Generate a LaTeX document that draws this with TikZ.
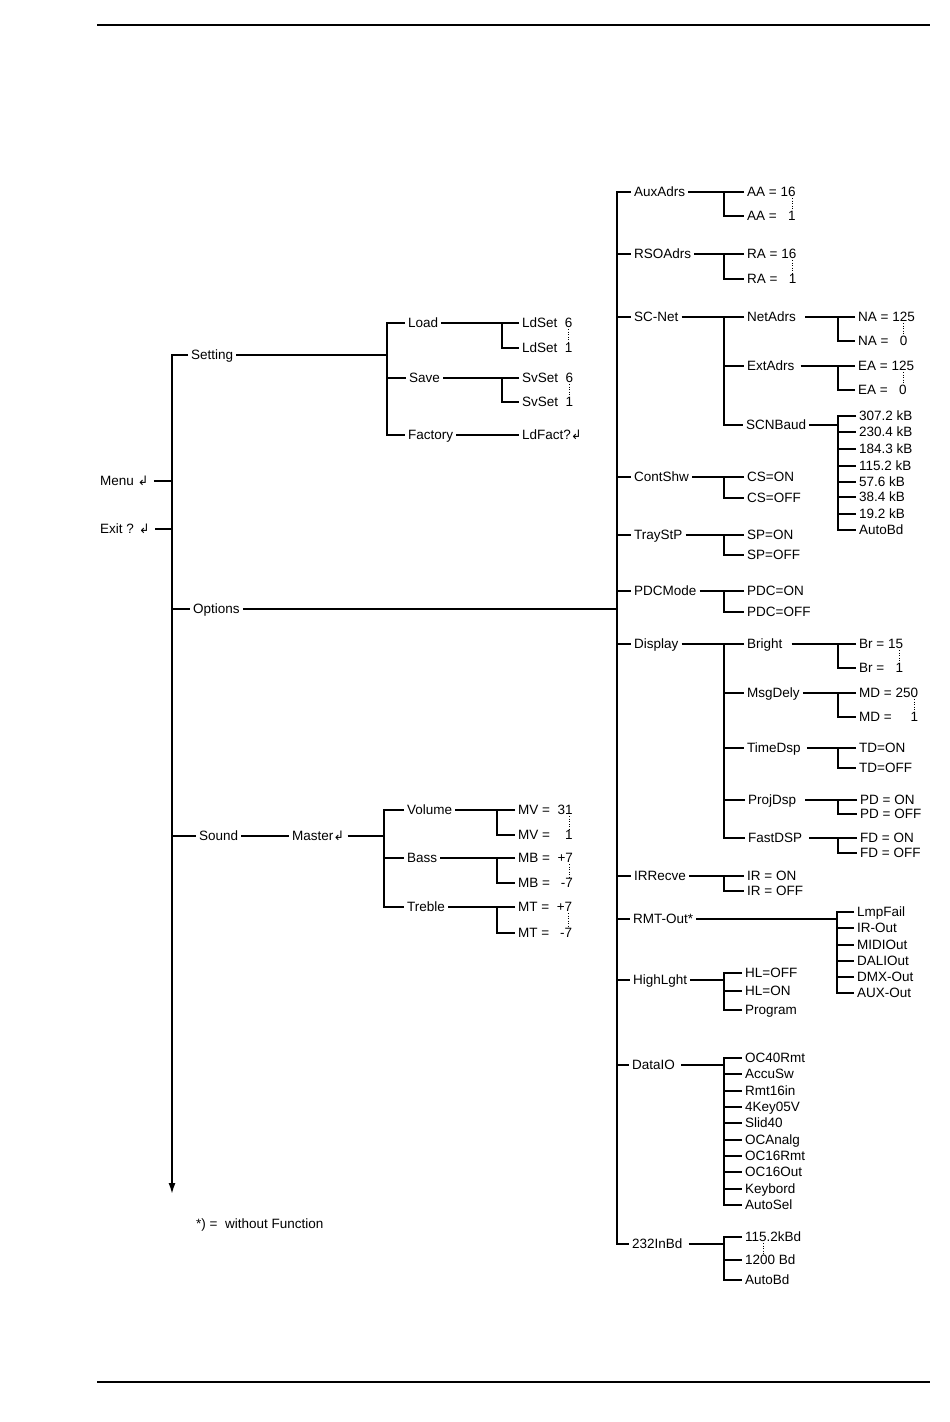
\documentclass[tikz,border=0pt]{standalone}
\usepackage{fontspec}
\setmainfont{Liberation Sans}
\newfontfamily\symf{DejaVu Sans}
\usetikzlibrary{arrows.meta}
\newcommand\ret{{\symf\fontsize{13}{13}\selectfont ↲}}
\newcommand\feed[3][ln]{\draw[#1] (#2.east) -- (#2.east -| #3);}
\newcommand\spine[4][ln]{\draw[#1] (#3.west) -- (#3.west -| #2) -- (#4.west -| #2) -- (#4.west);}
\newcommand\kid[3][ln]{\draw[#1] (#3.west -| #2) -- (#3.west);}
\newcommand\dotsbetween[3][-6.75pt]{\draw[dts] ([xshift=#1]#2.south east) -- ([xshift=#1]#3.north east);}
\begin{document}
\begin{tikzpicture}[x=1pt,y=-1pt,
  lbl/.style={anchor=west, inner xsep=3pt, inner ysep=0pt, text height=9pt, text depth=0pt, font=\fontsize{13.5}{14}\selectfont},
  ln/.style={line width=1.1pt},
  trunk/.style={line width=1.7pt},
  tk/.style={line width=2.2pt},
  dts/.style={line width=0.9pt, dash pattern=on 0.9pt off 1.6pt, shorten <=1.5pt, shorten >=1.5pt}]
\useasboundingbox (0,0) rectangle (950,1422);
% page rules
\draw[line width=1.8pt] (97,25) -- (930,25);
\draw[line width=1.8pt] (97,1382) -- (930,1382);
% bus coordinates
\coordinate (tL) at (172,355);
\coordinate (tLend) at (172,1194);
\coordinate (bSet) at (387,0);
\coordinate (bLd) at (502,0);
\coordinate (bMa) at (384,0);
\coordinate (bVol) at (497,0);
\coordinate (tR) at (617,0);
\coordinate (b2) at (724,0);
\coordinate (b3) at (838,0);
\coordinate (b3r) at (837,0);
% ---------- left part ----------
\node[lbl] (menu) at (97,481) {Menu \ret};
\node[lbl] (exit) at (97,529) {Exit ? \ret};
\node[lbl] (setting) at (188,355) {Setting};
\node[lbl] (options) at (190,609) {Options};
\node[lbl] (sound) at (196,836) {Sound};
\node[lbl] (master) at (289,836) {Master\ret};
\draw[trunk,-{Latex[length=11pt,width=7pt]}] (setting.west) -- (tL) -- (tLend);
\draw[ln] ([xshift=2pt]menu.east) -- (menu.east -| tL);
\draw[ln] ([xshift=2pt]exit.east) -- (exit.east -| tL);
\kid{tL}{options}
\kid{tL}{sound}
\feed[tk]{options}{tR}
% Setting
\node[lbl] (load) at (405,323) {Load};
\node[lbl] (save) at (406,378) {Save};
\node[lbl] (factory) at (405,435) {Factory};
\feed{setting}{bSet}
\spine{bSet}{load}{factory}
\kid{bSet}{save}
\node[lbl] (ld6) at (519,323) {LdSet\ \ 6};
\node[lbl] (ld1) at (519,348) {LdSet\ \ 1};
\feed{load}{bLd}
\draw[ln] (ld6.west) -- (ld6.west -| bLd);
\draw[tk] (ld6.west -| bLd) -- (ld1.west -| bLd) -- (ld1.west);
\dotsbetween{ld6}{ld1}
\node[lbl] (sv6) at (519,378) {SvSet\ \ 6};
\node[lbl] (sv1) at (519,402) {SvSet\ \ 1};
\feed{save}{bLd}
\spine{bLd}{sv6}{sv1}
\dotsbetween{sv6}{sv1}
\node[lbl] (ldf) at (519,435) {LdFact?\ret};
\draw[ln] (factory.east) -- (ldf.west);
% Sound
\draw[ln] (sound.east) -- (master.west);
\node[lbl] (volume) at (404,810) {Volume};
\node[lbl] (bass) at (404,858) {Bass};
\node[lbl] (treble) at (404,907) {Treble};
\feed{master}{bMa}
\spine{bMa}{volume}{treble}
\kid{bMa}{bass}
\node[lbl] (mv31) at (515,810) {MV =\ \ 31};
\node[lbl] (mv1) at (515,835) {MV =\ \ \phantom{3}1};
\feed{volume}{bVol}
\spine{bVol}{mv31}{mv1}
\dotsbetween{mv31}{mv1}
\node[lbl] (mbp) at (515,858) {MB =\ \ +7};
\node[lbl] (mbm) at (515,883) {MB =\ \ \phantom{+}\llap{-}7};
\feed{bass}{bVol}
\spine{bVol}{mbp}{mbm}
\dotsbetween{mbp}{mbm}
\node[lbl] (mtp) at (515,907) {MT =\ \ +7};
\node[lbl] (mtm) at (515,933) {MT =\ \ \phantom{+}\llap{-}7};
\feed{treble}{bVol}
\spine{bVol}{mtp}{mtm}
\dotsbetween{mtp}{mtm}
% ---------- right part ----------
\node[lbl] (aux) at (631,192) {AuxAdrs};
\node[lbl] (rso) at (631,254) {RSOAdrs};
\node[lbl] (scnet) at (631,317) {SC-Net};
\node[lbl] (cont) at (631,477) {ContShw};
\node[lbl] (tray) at (631,535) {TrayStP};
\node[lbl] (pdc) at (631,591) {PDCMode};
\node[lbl] (disp) at (631,644) {Display};
\node[lbl] (irr) at (631,876) {IRRecve};
\node[lbl] (rmt) at (630,919) {RMT-Out*};
\node[lbl] (hl) at (630,980) {HighLght};
\node[lbl] (dio) at (629,1065) {DataIO};
\node[lbl] (i232) at (629,1244) {232InBd};
\spine[trunk]{tR}{aux}{i232}
\foreach \n in {rso,scnet,cont,tray,pdc,disp,irr,rmt,hl,dio} {\kid{tR}{\n}}
% AuxAdrs
\node[lbl] (aa16) at (744,192) {AA = 16};
\node[lbl] (aa1) at (744,216) {AA = \phantom{1}1};
\feed{aux}{b2}
\spine{b2}{aa16}{aa1}
\dotsbetween{aa16}{aa1}
% RSOAdrs
\node[lbl] (ra16) at (744,254) {RA = 16};
\node[lbl] (ra1) at (744,279) {RA = \phantom{1}1};
\feed{rso}{b2}
\spine{b2}{ra16}{ra1}
\dotsbetween{ra16}{ra1}
% SC-Net
\node[lbl] (netadrs) at (744,317) {NetAdrs};
\node[lbl] (extadrs) at (744,366) {ExtAdrs};
\node[lbl] (scnbaud) at (743,425) {SCNBaud};
\feed{scnet}{b2}
\spine{b2}{netadrs}{scnbaud}
\kid{b2}{extadrs}
\node[lbl] (na125) at (855,317) {NA = 125};
\node[lbl] (na0) at (855,341) {NA = \phantom{1}0\phantom{5}};
\draw[ln] ([xshift=6pt]netadrs.east) -- (netadrs.east -| b3);
\spine{b3}{na125}{na0}
\dotsbetween[-14.25pt]{na125}{na0}
\node[lbl] (ea125) at (855,366) {EA = 125};
\node[lbl] (ea0) at (855,390) {EA = \phantom{1}0\phantom{5}};
\draw[ln] ([xshift=3pt]extadrs.east) -- (extadrs.east -| b3);
\draw[tk] (ea125.west -| b3) -- (ea0.west -| b3) -- (ea0.west);
\draw[ln] (ea125.west) -- (ea125.west -| b3);
\dotsbetween[-14.25pt]{ea125}{ea0}
\node[lbl] (k1) at (856,416) {307.2 kB};
\node[lbl] (k2) at (856,432) {230.4 kB};
\node[lbl] (k3) at (856,449) {184.3 kB};
\node[lbl] (k4) at (856,466) {115.2 kB};
\node[lbl] (k5) at (856,482) {57.6 kB};
\node[lbl] (k6) at (856,497) {38.4 kB};
\node[lbl] (k7) at (856,514) {19.2 kB};
\node[lbl] (k8) at (856,530) {AutoBd};
\feed{scnbaud}{b3}
\spine{b3}{k1}{k8}
\foreach \n in {k2,k3,k4,k5,k6,k7} {\kid{b3}{\n}}
% ContShw
\node[lbl] (cson) at (744,477) {CS=ON};
\node[lbl] (csoff) at (744,498) {CS=OFF};
\feed{cont}{b2}
\spine{b2}{cson}{csoff}
% TrayStP
\node[lbl] (spon) at (744,535) {SP=ON};
\node[lbl] (spoff) at (744,555) {SP=OFF};
\feed{tray}{b2}
\spine{b2}{spon}{spoff}
% PDCMode
\node[lbl] (pdcon) at (744,591) {PDC=ON};
\node[lbl] (pdcoff) at (744,612) {PDC=OFF};
\feed{pdc}{b2}
\spine{b2}{pdcon}{pdcoff}
% Display
\node[lbl] (bright) at (744,644) {Bright};
\node[lbl] (msg) at (744,693) {MsgDely};
\node[lbl] (tds) at (744,748) {TimeDsp};
\node[lbl] (pds) at (745,800) {ProjDsp};
\node[lbl] (fds) at (745,838) {FastDSP};
\feed{disp}{b2}
\spine{b2}{bright}{fds}
\foreach \n in {msg,tds,pds} {\kid{b2}{\n}}
\node[lbl] (br15) at (856,644) {Br = 15};
\node[lbl] (br1) at (856,668) {Br = \phantom{1}1};
\draw[ln] ([xshift=6pt]bright.east) -- (bright.east -| b3);
\spine{b3}{br15}{br1}
\dotsbetween{br15}{br1}
\node[lbl] (md250) at (856,693) {MD = 250};
\node[lbl] (md1) at (856,717) {MD = \phantom{25}1};
\feed{msg}{b3}
\spine{b3}{md250}{md1}
\dotsbetween{md250}{md1}
\node[lbl] (tdon) at (856,748) {TD=ON};
\node[lbl] (tdoff) at (856,768) {TD=OFF};
\draw[ln] ([xshift=3pt]tds.east) -- (tds.east -| b3);
\spine{b3}{tdon}{tdoff}
\node[lbl] (pdon) at (857,800) {PD = ON};
\node[lbl] (pdoff) at (857,814) {PD = OFF};
\draw[ln] ([xshift=6pt]pds.east) -- (pds.east -| b3);
\spine{b3}{pdon}{pdoff}
\node[lbl] (fdon) at (857,838) {FD = ON};
\node[lbl] (fdoff) at (857,853) {FD = OFF};
\draw[ln] ([xshift=4pt]fds.east) -- (fds.east -| b3);
\spine{b3}{fdon}{fdoff}
% IRRecve
\node[lbl] (iron) at (744,876) {IR = ON};
\node[lbl] (iroff) at (744,891) {IR = OFF};
\feed[tk]{irr}{b2}
\spine{b2}{iron}{iroff}
% RMT-Out
\node[lbl] (lmp) at (854,912) {LmpFail};
\node[lbl] (irout) at (854,928) {IR-Out};
\node[lbl] (midi) at (854,945) {MIDIOut};
\node[lbl] (dali) at (854,961) {DALIOut};
\node[lbl] (dmx) at (854,977) {DMX-Out};
\node[lbl] (auxo) at (854,993) {AUX-Out};
\feed{rmt}{b3r}
\spine{b3r}{lmp}{auxo}
\foreach \n in {irout,midi,dali,dmx} {\kid{b3r}{\n}}
% HighLght
\node[lbl] (hloff) at (742,973) {HL=OFF};
\node[lbl] (hlon) at (742,991) {HL=ON};
\node[lbl] (prog) at (742,1010) {Program};
\feed[tk]{hl}{b2}
\spine{b2}{hloff}{prog}
\kid{b2}{hlon}
% DataIO
\node[lbl] (d1) at (742,1058) {OC40Rmt};
\node[lbl] (d2) at (742,1074) {AccuSw};
\node[lbl] (d3) at (742,1091) {Rmt16in};
\node[lbl] (d4) at (742,1107) {4Key05V};
\node[lbl] (d5) at (742,1123) {Slid40};
\node[lbl] (d6) at (742,1140) {OCAnalg};
\node[lbl] (d7) at (742,1156) {OC16Rmt};
\node[lbl] (d8) at (742,1172) {OC16Out};
\node[lbl] (d9) at (742,1189) {Keybord};
\node[lbl] (d10) at (742,1205) {AutoSel};
\draw[ln] ([xshift=3pt]dio.east) -- (dio.east -| b2);
\spine{b2}{d1}{d10}
\foreach \n in {d2,d3,d4,d5,d6,d7,d8,d9} {\kid{b2}{\n}}
% 232InBd
\node[lbl] (b115) at (742,1237) {115.2kBd};
\node[lbl] (b1200) at (742,1260) {1200 Bd};
\node[lbl] (bauto) at (742,1280) {AutoBd};
\draw[ln] ([xshift=3pt]i232.east) -- (i232.east -| b2);
\spine{b2}{b115}{bauto}
\kid{b2}{b1200}
\draw[dts] ([xshift=21.75pt]b115.south west) -- ([xshift=21.75pt]b1200.north west);
% footnote
\node[lbl] (foot) at (193,1224) {*) =\ \ without Function};
\end{tikzpicture}
\end{document}
